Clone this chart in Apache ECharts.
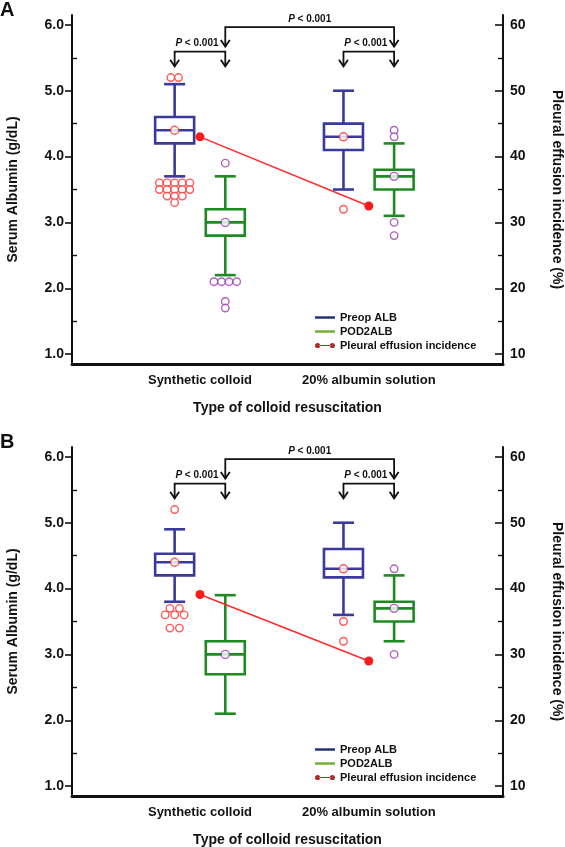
<!DOCTYPE html>
<html><head><meta charset="utf-8">
<script src="https://cdn.jsdelivr.net/npm/echarts@6/dist/echarts.min.js"></script>
<style>html,body{margin:0;padding:0;background:#fff}#c{width:565px;height:847px}</style>
</head><body><div id="c"></div>
<script>
// ---------- data ----------
const categories = ['Synthetic colloid', '20% albumin solution'];
const panelLabels = ['A', 'B'];
const seriesNames = ['Preop ALB', 'POD2ALB', 'Pleural effusion incidence'];
const xAxisTitle = 'Type of colloid resuscitation';
const leftAxisTitle = 'Serum Albumin (g/dL)';
const rightAxisTitle = 'Pleural effusion incidence (%)';
const leftTickValues = [1, 2, 3, 4, 5, 6];
const leftMinorTickValues = [1.5, 2.5, 3.5, 4.5, 5.5];
const rightTickValues = [10, 20, 30, 40, 50, 60];
const rightMinorTickValues = [15, 25, 35, 45, 55];
const pLabels = ['P < 0.001', 'P < 0.001', 'P < 0.001'];

// Panel A : box = [lower whisker, Q1, median, Q3, upper whisker] per category
const preopBoxA = [[3.7, 4.2, 4.4, 4.6, 5.1], [3.5, 4.1, 4.3, 4.5, 5.0]];
const pod2BoxA  = [[2.2, 2.8, 3.0, 3.2, 3.7], [3.1, 3.5, 3.7, 3.8, 4.2]];
const preopMeanA = [4.4, 4.3];
const pod2MeanA  = [3.0, 3.7];
const preopOutliersA = [[5.2, 5.2, 3.6, 3.6, 3.6, 3.6, 3.6, 3.5, 3.5, 3.5, 3.5, 3.5, 3.4, 3.4, 3.4, 3.3], [3.2]];
const pod2OutliersA  = [[3.9, 2.1, 2.1, 2.1, 2.1, 1.8, 1.7], [4.4, 4.3, 3.0, 2.8]];
const effusionA = [43.0, 32.5];

// Panel B
const preopBoxB = [[3.8, 4.2, 4.4, 4.53, 4.9], [3.6, 4.17, 4.3, 4.6, 5.0]];
const pod2BoxB  = [[2.1, 2.7, 3.0, 3.2, 3.9], [3.2, 3.5, 3.7, 3.8, 4.2]];
const preopMeanB = [4.4, 4.3];
const pod2MeanB  = [3.0, 3.7];
const preopOutliersB = [[5.2, 3.7, 3.7, 3.6, 3.6, 3.6, 3.4, 3.4], [3.5, 3.2]];
const pod2OutliersB  = [[], [4.3, 3.0]];
const effusionB = [39.1, 29.0];

// comparisons drawn as brackets (which boxes are compared)
const comparisons = [
  { from: [0, 'pre'], to: [0, 'pod'], tier: 0 },
  { from: [0, 'pod'], to: [1, 'pod'], tier: 1 },
  { from: [1, 'pre'], to: [1, 'pod'], tier: 0 }
];

// ---------- layout / style ----------
const FONT = "'Liberation Sans', Arial, Helvetica, sans-serif";
const BLUE = '#3a3a9c', GREEN = '#1f8a22', RED = '#ff3030', PURPLE = '#9a3cb0';
const OFFSET = { pre: -0.15, pod: 0.15 };
const PANEL_SHIFT = 432;
const OUTLIER_SPACING = [7.6, 9.5];

const panels = [
  { label: panelLabels[0], preBox: preopBoxA, podBox: pod2BoxA, preMean: preopMeanA, podMean: pod2MeanA, preOut: preopOutliersA, podOut: pod2OutliersA, eff: effusionA },
  { label: panelLabels[1], preBox: preopBoxB, podBox: pod2BoxB, preMean: preopMeanB, podMean: pod2MeanB, preOut: preopOutliersB, podOut: pod2OutliersB, eff: effusionB }
];

function boxRenderer(color) {
  return function (params, api) {
    const x = api.value(0);
    const ys = [1, 2, 3, 4, 5].map(d => api.coord([x, api.value(d)])[1]);
    const cx = api.coord([x, api.value(3)])[0];
    const hw = 19.5, cap = 10.5;
    const st = { stroke: color, lineWidth: 2.6 };
    return { type: 'group', children: [
      { type: 'line', shape: { x1: cx, y1: ys[0], x2: cx, y2: ys[1] }, style: st },
      { type: 'line', shape: { x1: cx, y1: ys[3], x2: cx, y2: ys[4] }, style: st },
      { type: 'line', shape: { x1: cx - cap, y1: ys[0], x2: cx + cap, y2: ys[0] }, style: st },
      { type: 'line', shape: { x1: cx - cap, y1: ys[4], x2: cx + cap, y2: ys[4] }, style: st },
      { type: 'rect', shape: { x: cx - hw, y: ys[3], width: 2 * hw, height: ys[1] - ys[3] }, style: { stroke: color, lineWidth: 2.6, fill: '#fff' } },
      { type: 'line', shape: { x1: cx - hw, y1: ys[2], x2: cx + hw, y2: ys[2] }, style: st }
    ] };
  };
}

function bracketRenderer(params, api) {
  const x1 = api.value(0), x2 = api.value(1), yl = api.value(2), yt = api.value(3);
  const a = api.coord([x1, yl]), b = api.coord([x2, yl]);
  const tip = api.coord([x1, yt])[1];
  const tier = api.value(4);
  const st = { stroke: '#111', lineWidth: 1.8, fill: 'none' };
  const head = (x) => ({ type: 'polyline', shape: { points: [[x - 4.5, tip - 6.5], [x, tip], [x + 4.5, tip - 6.5]] }, style: st });
  return { type: 'group', children: [
    { type: 'polyline', shape: { points: [[a[0], tip], [a[0], a[1]], [b[0], b[1]], [b[0], tip]] }, style: st },
    head(a[0]), head(b[0]),
    { type: 'text', x: (a[0] + b[0]) / 2 - (tier === 0 ? 3 : 0), y: a[1] - 3,
      style: { text: '{i|' + pLabels[params.dataIndex].slice(0, 1) + '}' + pLabels[params.dataIndex].slice(1),
        fill: '#111', fontSize: 10, fontWeight: 'bold', fontFamily: FONT, align: 'center', verticalAlign: 'bottom',
        rich: { i: { fontStyle: 'italic', fontWeight: 'bold', fontSize: 10, fontFamily: FONT, fill: '#111' } } } }
  ] };
}

function spread(values, x, spacing) {
  const counts = {}, seen = {};
  values.forEach(v => counts[v] = (counts[v] || 0) + 1);
  return values.map(v => {
    const k = seen[v] || 0; seen[v] = k + 1;
    return { value: [x, v], symbolOffset: [(k - (counts[v] - 1) / 2) * spacing, 0] };
  });
}

const lineIcon = 'path://M0,0L0,0M20,10L20,10M0,3.8L20,3.8L20,6.2L0,6.2Z';
const dotIcon = 'path://M0,0L0,0M20,10L20,10M4.5,4.4L15.5,4.4L15.5,5.6L4.5,5.6Z' +
  'M0,5A2.6,2.6,0,1,0,5.2,5A2.6,2.6,0,1,0,0,5Z M14.8,5A2.6,2.6,0,1,0,20,5A2.6,2.6,0,1,0,14.8,5Z';

const axisText = { color: '#111', fontWeight: 'bold', fontFamily: FONT };
const option = { animation: false, textStyle: { fontFamily: FONT }, title: [], grid: [], xAxis: [], yAxis: [], legend: [], series: [] };

panels.forEach((p, g) => {
  const off = g * PANEL_SHIFT;
  option.title.push({ text: p.label, left: 0, top: off, padding: 0, textStyle: { fontSize: 20, fontWeight: 'bold', color: '#111', fontFamily: FONT } });
  option.grid.push({ left: 72, right: 62, top: 15 + off, height: 349, outerBoundsMode: 'none', containLabel: false });
  option.xAxis.push({
    type: 'value', gridIndex: g, min: -0.758, max: 1.795,
    axisLine: { show: true, onZero: false, lineStyle: { color: '#111', width: 3 } },
    axisTick: { show: false }, splitLine: { show: false },
    axisLabel: { customValues: [0, 1], formatter: v => categories[Math.round(v)], fontSize: 13, margin: 10, ...axisText },
    name: xAxisTitle, nameLocation: 'middle', nameGap: 37, nameTextStyle: { fontSize: 14, ...axisText }
  });
  const yb = { type: 'value', gridIndex: g, splitLine: { show: false } };
  option.yAxis.push({ ...yb, position: 'left', min: 0.85, max: 6.15,
    axisLine: { show: true, onZero: false, lineStyle: { color: '#111', width: 2 } },
    axisTick: { show: true, inside: false, length: 7, customValues: leftTickValues, lineStyle: { color: '#111', width: 1.6 } },
    axisLabel: { customValues: leftTickValues, formatter: v => v.toFixed(1), fontSize: 14, margin: 8, ...axisText },
    name: leftAxisTitle, nameLocation: 'middle', nameGap: 52, nameTextStyle: { fontSize: 14, ...axisText } });
  option.yAxis.push({ ...yb, position: 'left', min: 0.85, max: 6.15,
    axisLine: { show: false, onZero: false }, axisLabel: { show: false },
    axisTick: { show: true, inside: true, length: 5, customValues: leftMinorTickValues, lineStyle: { color: '#111', width: 1.4 } } });
  option.yAxis.push({ ...yb, position: 'right', min: 8.5, max: 61.5,
    axisLine: { show: true, onZero: false, lineStyle: { color: '#111', width: 2 } },
    axisTick: { show: true, inside: true, length: 8, customValues: rightTickValues, lineStyle: { color: '#111', width: 1.6 } },
    axisLabel: { customValues: rightTickValues, formatter: v => String(v), fontSize: 14, margin: 7, ...axisText },
    name: rightAxisTitle, nameLocation: 'middle', nameRotate: -90, nameGap: 47, nameTextStyle: { fontSize: 14, ...axisText } });
  option.yAxis.push({ ...yb, position: 'right', min: 8.5, max: 61.5,
    axisLine: { show: false, onZero: false }, axisLabel: { show: false },
    axisTick: { show: true, inside: true, length: 5, customValues: rightMinorTickValues, lineStyle: { color: '#111', width: 1.4 } } });

  option.legend.push({ left: 315, top: 312 + off, orient: 'vertical', itemGap: 3, itemWidth: 20, itemHeight: 10, padding: 0,
    selectedMode: false, textStyle: { fontSize: 11, ...axisText },
    data: [
      { name: seriesNames[0], icon: lineIcon, itemStyle: { color: '#1c2b6c', borderWidth: 0 } },
      { name: seriesNames[1], icon: lineIcon, itemStyle: { color: '#6cac2a', borderWidth: 0 } },
      { name: seriesNames[2], icon: dotIcon, itemStyle: { color: '#b8282a', borderWidth: 0 } }
    ] });

  const yi = g * 4;
  const common = { xAxisIndex: g, yAxisIndex: yi };
  option.series.push({ ...common, type: 'custom', name: seriesNames[0], z: 2, itemStyle: { color: BLUE },
    encode: { x: 0, y: [1, 2, 3, 4, 5] }, renderItem: boxRenderer(BLUE),
    data: p.preBox.map((b, i) => [i + OFFSET.pre, ...b]) });
  option.series.push({ ...common, type: 'custom', name: seriesNames[1], z: 2, itemStyle: { color: GREEN },
    encode: { x: 0, y: [1, 2, 3, 4, 5] }, renderItem: boxRenderer(GREEN),
    data: p.podBox.map((b, i) => [i + OFFSET.pod, ...b]) });
  const ring = (c) => ({ color: '#fff', borderColor: c, borderWidth: 1.4 });
  option.series.push({ ...common, type: 'scatter', name: 'preop outliers', z: 3, symbol: 'circle', symbolSize: 7.5, itemStyle: ring(RED),
    data: p.preOut.flatMap((vals, i) => spread(vals, i + OFFSET.pre, OUTLIER_SPACING[g])) });
  option.series.push({ ...common, type: 'scatter', name: 'pod2 outliers', z: 3, symbol: 'circle', symbolSize: 7.5, itemStyle: ring(PURPLE),
    data: p.podOut.flatMap((vals, i) => spread(vals, i + OFFSET.pod, OUTLIER_SPACING[g])) });
  option.series.push({ ...common, type: 'scatter', name: 'preop mean', z: 4, symbol: 'circle', symbolSize: 8, itemStyle: ring(RED),
    data: p.preMean.map((v, i) => [i + OFFSET.pre, v]) });
  option.series.push({ ...common, type: 'scatter', name: 'pod2 mean', z: 4, symbol: 'circle', symbolSize: 8, itemStyle: ring(PURPLE),
    data: p.podMean.map((v, i) => [i + OFFSET.pod, v]) });
  option.series.push({ xAxisIndex: g, yAxisIndex: yi + 2, type: 'line', name: seriesNames[2], z: 5,
    symbol: 'circle', symbolSize: 9, showSymbol: true, lineStyle: { color: '#ff2a2a', width: 1.5 }, itemStyle: { color: '#ff1a1a' },
    data: p.eff.map((v, i) => [i, v]) });
  option.series.push({ ...common, type: 'custom', name: 'comparisons', z: 6, renderItem: bracketRenderer, silent: true,
    encode: { x: [0, 1], y: [2, 3] },
    data: comparisons.map(c => [c.from[0] + OFFSET[c.from[1]], c.to[0] + OFFSET[c.to[1]],
      c.tier ? 5.965 : 5.595, c.tier ? 5.67 : 5.37, c.tier]) });
});

const chart = echarts.init(document.getElementById('c'), null, { renderer: 'canvas' });
chart.setOption(option);
</script></body></html>
